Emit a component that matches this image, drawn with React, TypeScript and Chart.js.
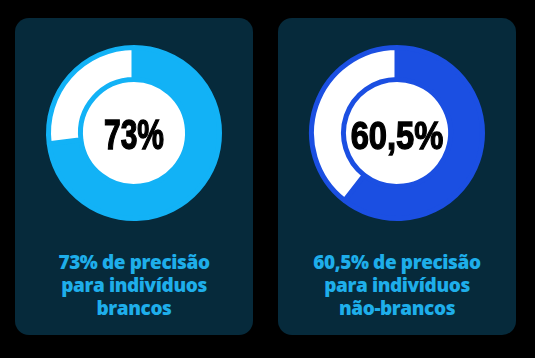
import React, { useEffect, useRef } from "react";
import { Chart, registerables } from "chart.js";

Chart.register(...registerables);

// ---- data ----
const groups = ["brancos", "não-brancos"];
const precision = [73, 60.5];
const captionLines = [
  ["73% de precisão", "para indivíduos", "brancos"],
  ["60,5% de precisão", "para indivíduos", "não-brancos"],
];
const ringColors = ["#12b2f6", "#1b4fe2"];

const fmt = (v: number) => String(v).replace(".", ",") + "%";

function Donut({ value, color }: { value: number; color: string }) {
  const ref = useRef<HTMLCanvasElement | null>(null);
  useEffect(() => {
    if (!ref.current) return;
    const chart = new Chart(ref.current, {
      type: "doughnut",
      data: {
        labels: ["Precisão", "Erro"],
        datasets: [
          {
            data: [value, 100 - value],
            backgroundColor: [color, "#ffffff"],
            borderColor: color,
            borderWidth: 5,
            hoverBorderWidth: 5,
            borderAlign: "center",
          },
        ],
      },
      options: {
        animation: false,
        responsive: false,
        maintainAspectRatio: false,
        radius: 85.5,
        cutout: "62.6%",
        layout: { padding: 0 },
        events: [],
        plugins: { legend: { display: false }, tooltip: { enabled: false } },
      } as any,
    });
    return () => chart.destroy();
  }, [value, color]);
  return (
    <canvas
      ref={ref}
      width={180}
      height={180}
      style={{ position: "absolute", left: 29, top: 25, width: 180, height: 180, zIndex: 2 }}
    />
  );
}

function Card({ i, left }: { i: number; left: number }) {
  const big = i === 0;
  return (
    <div
      style={{
        position: "absolute",
        left,
        top: 18,
        width: 238,
        height: 317,
        borderRadius: 14,
        background: "#062a3b",
      }}
    >
      <div
        style={{
          position: "absolute",
          left: 119 - 52,
          top: 115 - 52,
          width: 104,
          height: 104,
          borderRadius: "50%",
          background: "#ffffff",
          zIndex: 1,
        }}
      />
      <Donut value={precision[i]} color={ringColors[i]} />
      <div
        style={{
          position: "absolute",
          left: 0,
          width: 238,
          top: 115 - 30 + (big ? 1 : 3),
          height: 60,
          lineHeight: "60px",
          textAlign: "center",
          zIndex: 3,
          fontFamily: "'Liberation Sans', Arial, sans-serif",
          fontWeight: 700,
          fontSize: big ? 40 : 38,
          color: "#000000",
          WebkitTextStroke: "1.3px #000000",
          transform: big ? "scale(0.75, 1.06)" : "scale(0.86, 1.0)",
        }}
      >
        {fmt(precision[i])}
      </div>
      <div
        style={{
          position: "absolute",
          left: 0,
          width: 238,
          top: 233,
          textAlign: "center",
          fontFamily: "'Open Sans', 'Noto Sans', sans-serif",
          fontWeight: 800,
          fontSize: 19,
          lineHeight: "23px",
          letterSpacing: -0.4,
          color: "#1eaeea",
        }}
        title={groups[i]}
      >
        {captionLines[i].map((l, k) => (
          <div key={k}>{l}</div>
        ))}
      </div>
    </div>
  );
}

export default function App() {
  return (
    <div
      style={{
        position: "fixed",
        left: 0,
        top: 0,
        width: 535,
        height: 358,
        background: "#000000",
        overflow: "hidden",
      }}
    >
      <Card i={0} left={15} />
      <Card i={1} left={278} />
    </div>
  );
}
